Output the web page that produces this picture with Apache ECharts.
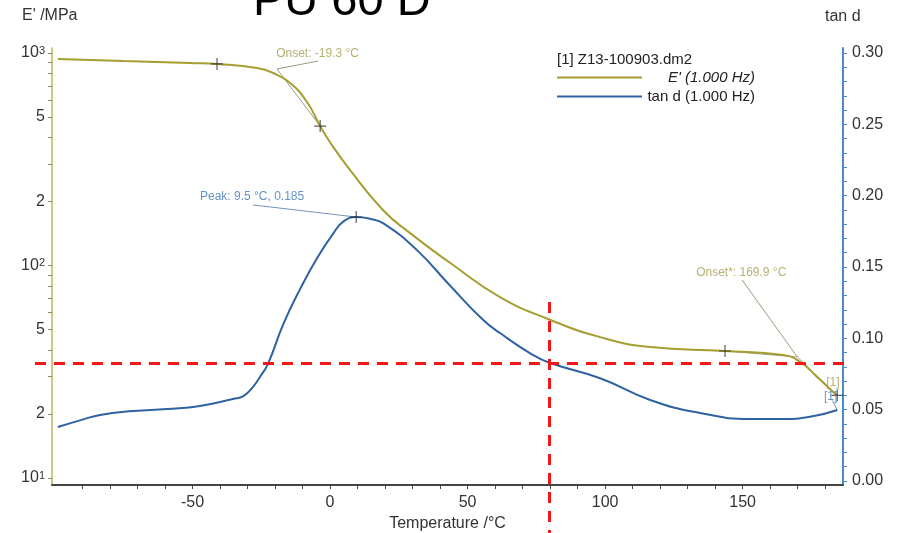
<!DOCTYPE html>
<html>
<head>
<meta charset="utf-8">
<script src="https://cdn.jsdelivr.net/npm/echarts@6/dist/echarts.min.js"></script>
<style>
  html, body { margin: 0; background: #fff; }
  #chart { width: 901px; height: 533px; }
</style>
</head>
<body>
<div id="chart"></div>
<script>
/* DMA: PU 60 D — E' (log) und tan d gegen Temperatur */

// ---- Messkurven ----
const E_TEMP = [-99, -75, -50.9, -41.1, -26.5, -20.7, -14.5, -8.4, -3.6, 0, 7.3, 19.3, 29.1, 43.6, 61.8, 79.3, 98.2, 116.4, 143.6, 164.7, 170.9, 177.1, 182.9, 184.4];
const E_MOD  = [937, 917, 898, 888, 849, 805, 722, 588, 453, 380, 281, 182, 142, 103, 71, 56, 46, 41.3, 39.6, 37.9, 35.2, 29.9, 25.4, 24.5];

const TD_TEMP = [-99, -90, -83.6, -71.6, -59.3, -47.3, -35.3, -31.5, -28, -25.5, -22.5, -17, -10.9, -4.8, 1.2, 4.8, 9.5, 14.5, 19.4, 31.5, 43.6, 55.6, 61.8, 73.8, 80, 98.2, 116.4, 134.5, 152.7, 164.7, 174.5, 184.4];
const TAN_D   = [0.0378, 0.043, 0.0463, 0.049, 0.0505, 0.0526, 0.0575, 0.0595, 0.066, 0.0729, 0.0825, 0.110, 0.1345, 0.156, 0.1736, 0.1818, 0.185, 0.1838, 0.1806, 0.162, 0.137, 0.113, 0.1037, 0.0883, 0.0827, 0.072, 0.0568, 0.0477, 0.0435, 0.0435, 0.045, 0.0498];

// ---- Auswertepunkte (+) ----
const E_MARK_T = [-41.1, -3.6, 143.6, 184.4];
const E_MARK_V = [888, 453, 39.6, 24.5];
const TD_MARK = [[9.5, 0.185]];

// ---- Tangenten / Hinweislinien [T, E'] ----
const ONSET1 = [-19.3, 841];
const ONSET2 = [169.9, 37.1];
const E_SEGMENTS = [
  [ONSET1, [-3.6, 453]],
  [ONSET1, [-4.4, 916]],
  [[143.6, 39.6], ONSET2],
  [ONSET2, [184.4, 24.5]],
  [ONSET2, [149.8, 85.5]],
];
const TD_SEGMENTS = [
  [[-28, 0.1935], [9.5, 0.185]],
  [[182.6, 0.0565], [184.4, 0.0498]],
];

// ---- Beschriftungen ----
const E_NOTES = [
  { t: -19.6, v: 989, text: 'Onset: -19.3 °C' },
  { t: 133.1, v: 92.3, text: 'Onset*: 169.9 °C' },
  { t: 180.4, v: 28.0, text: '[1]' },
];
const TD_NOTES = [
  { t: -47.3, v: 0.199, text: 'Peak: 9.5 °C, 0.185' },
  { t: 179.6, v: 0.0589, text: '[1]' },
];

// ---- rote Hilfslinien (tan d-Achse) ----
const RED_H = [[-107.3, 0.0825], [188.4, 0.0825]];
const RED_V = [[79.6, 0.1255], [79.6, -0.0364]];

// ---- Achsen ----
const X_LABELS = [-50, 0, 50, 100, 150];
const X_TICKS = [-90, -80, -70, -60, -50, -40, -30, -20, -10, 0, 10, 20, 30, 40, 50, 60, 70, 80, 90, 100, 110, 120, 130, 140, 150, 160, 170, 180];
const E_LABELS = [10, 20, 50, 100, 200, 500, 1000];
const E_TICKS = [10, 20, 30, 40, 50, 60, 70, 80, 90, 100, 200, 300, 400, 500, 600, 700, 800, 900, 1000];
const TD_LABELS = [0, 0.05, 0.10, 0.15, 0.20, 0.25, 0.30];
const TD_TICKS = [0, 0.01, 0.02, 0.03, 0.04, 0.05, 0.06, 0.07, 0.08, 0.09, 0.10, 0.11, 0.12, 0.13, 0.14, 0.15, 0.16, 0.17, 0.18, 0.19, 0.20, 0.21, 0.22, 0.23, 0.24, 0.25, 0.26, 0.27, 0.28, 0.29, 0.30];

const FONT = '"Liberation Sans", Arial, sans-serif';
const OLIVE = '#a59e30';
const BLUE = '#2f62a2';
const lg = (v) => Math.log10(v);
const plus = 'path://M0,5.4h12v1.2H0zM5.4,0h1.2v12H5.4z';

const eData = E_TEMP.map((t, i) => [t, lg(E_MOD[i])]);
const tdData = TD_TEMP.map((t, i) => [t, TAN_D[i]]);
const noteSeries = (notes, axis, color, log) => ({
  type: 'scatter', yAxisIndex: axis, symbolSize: 0, silent: true, z: 5,
  data: notes.map((n) => ({ value: [n.t, log ? lg(n.v) : n.v], text: n.text })),
  label: {
    show: true, position: [0, 0], align: 'left', verticalAlign: 'middle',
    formatter: (p) => p.data.text, color, fontSize: 12, fontFamily: FONT,
  },
});

const chart = echarts.init(document.getElementById('chart'));
chart.setOption({
  animation: false,
  textStyle: { fontFamily: FONT },
  grid: { left: 52, right: 58, top: 48, bottom: 48, outerBoundsMode: 'none' },
  graphic: [
    { type: 'text', left: 253, top: -21, style: { text: 'PU 60 D', fontSize: 47, fill: '#000', fontFamily: FONT } },
    { type: 'text', left: 22, top: 8, style: { text: "E' /MPa", fontSize: 16, fill: '#333', fontFamily: FONT } },
    { type: 'text', left: 825, top: 9, style: { text: 'tan d', fontSize: 16, fill: '#333', fontFamily: FONT } },
    { type: 'text', left: 557, top: 52, style: { text: '[1] Z13-100903.dm2', fontSize: 15, fill: '#222', fontFamily: FONT } },
  ],
  legend: {
    data: ["E' (1.000 Hz)", 'tan d (1.000 Hz)'],
    orient: 'vertical', left: 557, top: 70, itemGap: 4, padding: 0,
    itemWidth: 85, itemHeight: 2, icon: 'rect', selectedMode: false,
    formatter: (name) => (name[0] === 'E' ? '{i|' + name + '}' : '{t|' + name + '}'),
    textStyle: {
      rich: {
        i: { width: 108, align: 'right', fontSize: 15, color: '#222', fontStyle: 'italic', fontFamily: FONT },
        t: { width: 108, align: 'right', fontSize: 15, color: '#222', fontFamily: FONT },
      },
    },
  },
  xAxis: {
    type: 'value', min: -101.1, max: 186.5,
    name: 'Temperature /°C', nameLocation: 'middle', nameGap: 28,
    nameTextStyle: { fontSize: 16, color: '#333', fontFamily: FONT },
    axisLine: { onZero: false, lineStyle: { color: '#444', width: 2 } },
    axisTick: { customValues: X_TICKS, length: 4, lineStyle: { color: '#444' } },
    axisLabel: { customValues: X_LABELS, margin: 10, fontSize: 16, color: '#333' },
    splitLine: { show: false },
  },
  yAxis: [
    {
      type: 'value', position: 'left', min: 0.967, max: 3.0235,
      axisLine: { show: true, onZero: false, lineStyle: { color: '#b9b35c', width: 1.5 } },
      axisTick: { customValues: E_TICKS.map(lg), length: 4, lineStyle: { color: '#8f8b5a' } },
      axisLabel: {
        customValues: E_LABELS.map(lg), margin: 7, fontSize: 16, color: '#333',
        formatter: (v) => {
          const e = Math.round(v);
          if (Math.abs(v - e) < 1e-6) return '{b|10}{s|' + e + '}';
          return String(Math.round(Math.pow(10, v) / Math.pow(10, Math.floor(v + 1e-9))));
        },
        rich: {
          b: { fontSize: 16, color: '#333', fontFamily: FONT },
          s: { fontSize: 11, color: '#333', verticalAlign: 'top', fontFamily: FONT },
        },
      },
      splitLine: { show: false },
    },
    {
      type: 'value', position: 'right', min: -0.0028, max: 0.3035,
      axisLine: { show: true, onZero: false, lineStyle: { color: '#4c8bc8', width: 2 } },
      axisTick: { customValues: TD_TICKS, length: 4, lineStyle: { color: '#4c8bc8' } },
      axisLabel: { customValues: TD_LABELS, margin: 9, fontSize: 16, color: '#333', formatter: (v) => v.toFixed(2) },
      splitLine: { show: false },
    },
  ],
  series: [
    {
      name: "E' (1.000 Hz)", type: 'line', yAxisIndex: 0, data: eData,
      smooth: 0.5, showSymbol: false, z: 3,
      itemStyle: { color: OLIVE }, lineStyle: { color: OLIVE, width: 2 },
    },
    {
      name: 'tan d (1.000 Hz)', type: 'line', yAxisIndex: 1, data: tdData,
      smooth: 0.5, showSymbol: false, z: 3,
      itemStyle: { color: BLUE }, lineStyle: { color: BLUE, width: 2 },
    },
    {
      type: 'lines', coordinateSystem: 'cartesian2d', yAxisIndex: 0, silent: true, z: 2,
      data: E_SEGMENTS.map((s) => ({ coords: s.map(([t, v]) => [t, lg(v)]) })),
      lineStyle: { color: '#9b9a7c', width: 1, opacity: 1 },
    },
    {
      type: 'lines', coordinateSystem: 'cartesian2d', yAxisIndex: 1, silent: true, z: 2,
      data: TD_SEGMENTS.map((s) => ({ coords: s })),
      lineStyle: { color: '#6f94b8', width: 1, opacity: 1 },
    },
    {
      type: 'scatter', yAxisIndex: 0, symbol: plus, symbolSize: 12, silent: true, z: 4,
      data: E_MARK_T.map((t, i) => [t, lg(E_MARK_V[i])]),
      itemStyle: { color: '#333' },
    },
    {
      type: 'scatter', yAxisIndex: 1, symbol: plus, symbolSize: 12, silent: true, z: 4,
      data: TD_MARK, itemStyle: { color: '#333' },
    },
    noteSeries(E_NOTES, 0, '#a49c48', true),
    noteSeries(TD_NOTES, 1, '#3a78b6', false),
    {
      type: 'lines', coordinateSystem: 'cartesian2d', yAxisIndex: 1, silent: true, clip: false, z: 6,
      data: [{ coords: RED_H }, { coords: RED_V }],
      lineStyle: { color: '#f01818', width: 3, type: [11, 8], opacity: 1 },
    },
  ],
});
</script>
</body>
</html>
